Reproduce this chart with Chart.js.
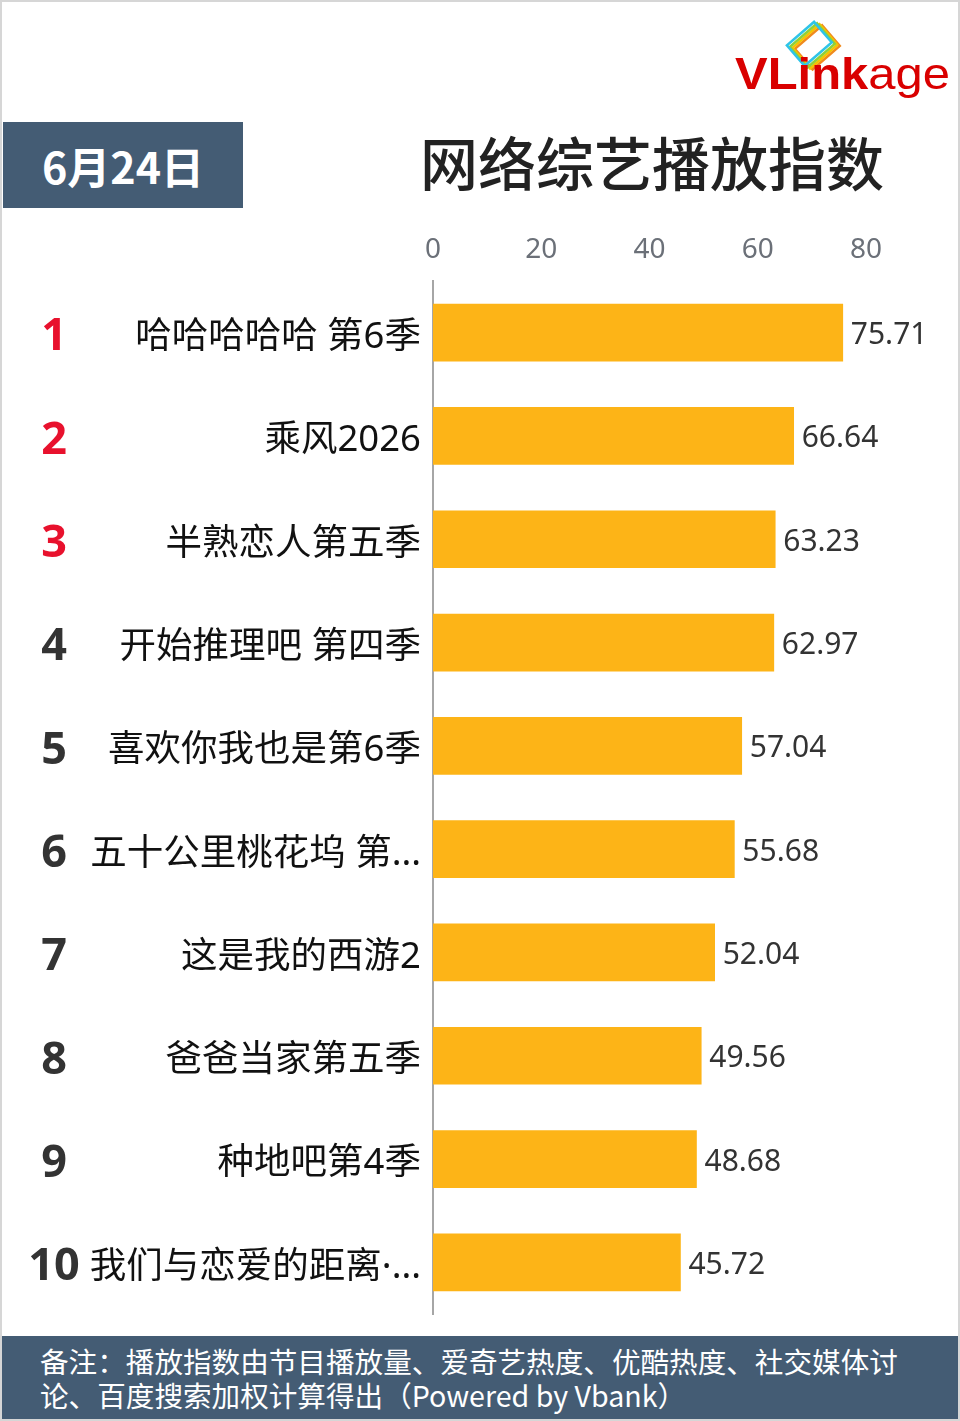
<!DOCTYPE html>
<html>
<head>
<meta charset="utf-8">
<script src="https://cdn.jsdelivr.net/npm/chart.js@4"></script>
<style>
  html, body { margin: 0; padding: 0; background: #fff; }
  #page { position: relative; width: 960px; height: 1421px; box-sizing: border-box; border: 2px solid #d6d6d6; overflow: hidden; background: #fff; font-family: "Noto Sans CJK SC", "Noto Sans", sans-serif; }
  #chart { position: absolute; left: -2px; top: -2px; }
  #dateBox { position: absolute; left: 1px; top: 120px; width: 240px; height: 86px; background: #445c74; color: #fff; font-weight: 700; font-size: 43px; line-height: 86px; text-align: center; }
  #title { position: absolute; left: 400px; top: 121px; width: 500px; text-align: center; font-size: 58px; font-weight: 500; color: #222; line-height: 76px; }
  #logo { position: absolute; left: 728px; top: 10px; }
  #note { position: absolute; left: -2px; top: 1334px; width: 960px; height: 86px; background: #445c74; color: #fff; font-size: 28.6px; line-height: 34px; padding: 8px 0 0 40px; box-sizing: border-box; white-space: nowrap; }
</style>
</head>
<body>
<div id="page">
  <canvas id="chart" width="960" height="1336"></canvas>
  <div id="dateBox">6月24日</div>
  <div id="title">网络综艺播放指数</div>
  <svg id="logo" width="230" height="95" viewBox="0 0 230 95">
    <g fill="none" stroke-width="2.5">
      <rect x="-18" y="-13" width="36" height="27" stroke="#f08a1e" transform="translate(87,35) rotate(-41)"/>
      <rect x="-18" y="-13" width="36" height="27" stroke="#f5c400" transform="translate(84.5,34) rotate(-41)"/>
      <rect x="-18" y="-13" width="36" height="27" stroke="#8fd13a" transform="translate(82,33) rotate(-41)"/>
      <rect x="-18" y="-13" width="36" height="27" stroke="#2ec4e8" transform="translate(79,31.5) rotate(-41)"/>
    </g>
    <text x="5" y="77" textLength="215" lengthAdjust="spacingAndGlyphs" font-family="Liberation Sans, Arial, sans-serif" font-size="44" fill="#d90000"><tspan font-weight="700">VLink</tspan><tspan>age</tspan></text>
  </svg>
  <div id="note">备注：播放指数由节目播放量、爱奇艺热度、优酷热度、社交媒体讨<br>论、百度搜索加权计算得出（Powered by Vbank）</div>
</div>
<script>
const categories = ["哈哈哈哈哈 第6季", "乘风2026", "半熟恋人第五季", "开始推理吧 第四季", "喜欢你我也是第6季",
  "五十公里桃花坞 第...", "这是我的西游2", "爸爸当家第五季", "种地吧第4季", "我们与恋爱的距离·..."];
const ranks = ["1", "2", "3", "4", "5", "6", "7", "8", "9", "10"];
const playIndex = [75.71, 66.64, 63.23, 62.97, 57.04, 55.68, 52.04, 49.56, 48.68, 45.72];
const xTicks = [0, 20, 40, 60, 80];

const rankAndValues = {
  id: "rankAndValues",
  afterDatasetsDraw(chart) {
    const ctx = chart.ctx;
    const meta = chart.getDatasetMeta(0);
    const yScale = chart.scales.y;
    ctx.save();
    ctx.textBaseline = "middle";
    meta.data.forEach((bar, i) => {
      ctx.font = '30px "Noto Sans", sans-serif';
      ctx.fillStyle = "#333";
      ctx.textAlign = "left";
      ctx.fillText(playIndex[i].toFixed(2), bar.x + 8, bar.y + 3);
      const y = yScale.getPixelForValue(i);
      ctx.font = 'bold 45px "Noto Sans", sans-serif';
      ctx.fillStyle = i < 3 ? "#e8112d" : "#333";
      ctx.textAlign = "center";
      ctx.fillText(ranks[i], 54, y + 5);
    });
    ctx.restore();
  }
};

new Chart(document.getElementById("chart").getContext("2d"), {
  type: "bar",
  data: {
    labels: categories,
    datasets: [{
      data: playIndex,
      backgroundColor: "#fdb417",
      barThickness: 57
    }]
  },
  options: {
    indexAxis: "y",
    responsive: false,
    animation: false,
    layout: { padding: { top: 230, right: 94, left: 0, bottom: 22 } },
    plugins: { legend: { display: false }, tooltip: { enabled: false } },
    scales: {
      x: {
        position: "top",
        min: 0,
        max: 80,
        afterBuildTicks: s => { s.ticks = xTicks.map(v => ({ value: v })); },
        ticks: { font: { size: 28, family: "Noto Sans" }, color: "#6b7078", padding: 14 },
        grid: { display: false, drawTicks: false },
        border: { display: false },
        afterFit: s => { s.height = 51; }
      },
      y: {
        ticks: { autoSkip: false, font: { size: 36.5, family: "'Noto Sans', 'Noto Sans CJK SC'" }, color: "#111", padding: 12, labelOffset: 5 },
        grid: { display: false, drawTicks: false },
        border: { display: true, color: "#a6a6a6", width: 2 },
        afterFit: s => { s.width = 433; s.paddingTop = 0; s.paddingBottom = 0; }
      }
    }
  },
  plugins: [rankAndValues]
});
</script>
</body>
</html>
